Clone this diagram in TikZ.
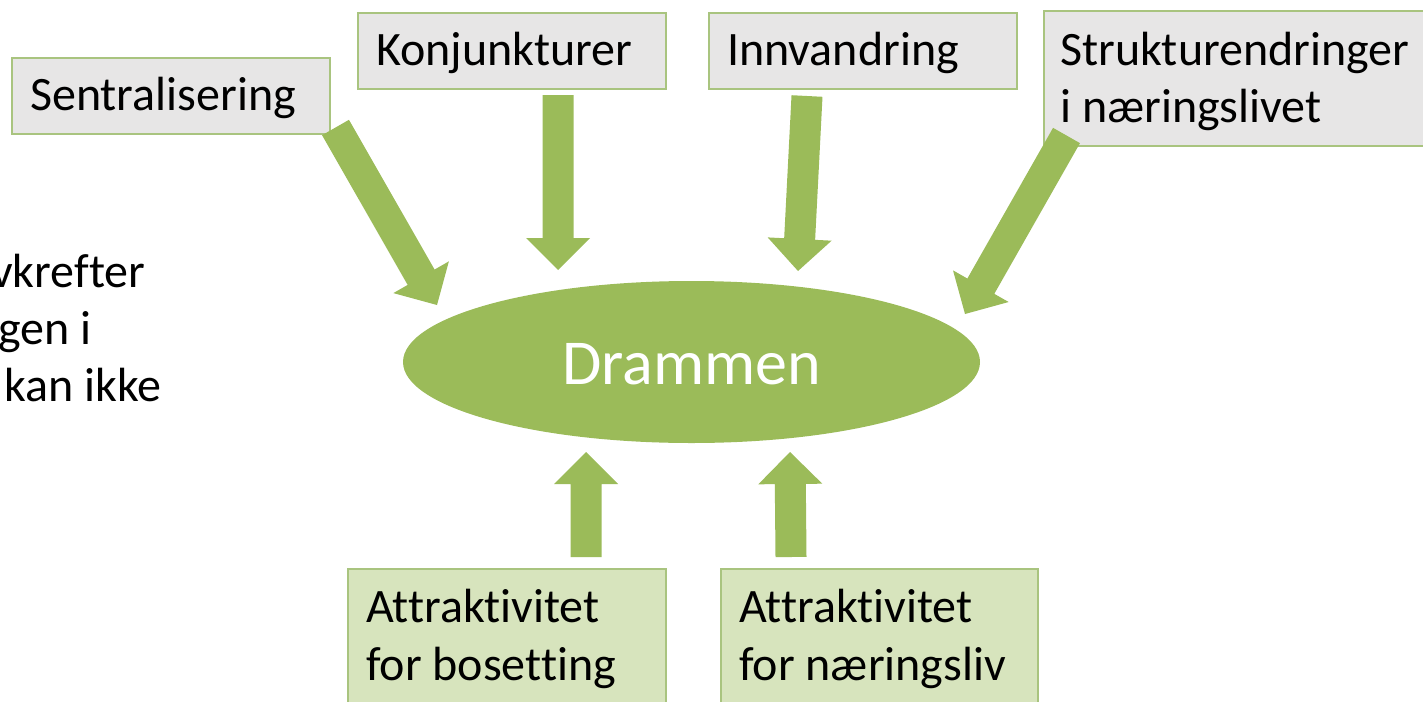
\documentclass[tikz,border=0pt]{standalone}
\usepackage{fontspec}
\setmainfont{Carlito}[Ligatures=NoCommon]
\usetikzlibrary{shapes.geometric,calc}
\definecolor{agreen}{HTML}{9BBB59}
\definecolor{bgreen}{HTML}{A9C47F}
\definecolor{gfill}{HTML}{E7E6E6}
\definecolor{lgfill}{HTML}{D7E4BD}
\newcommand\blockarr[2]{%
  \path ($(#2)!32pt!(#1)$) coordinate (hb);
  \fill[agreen] ($(#1)!15.5pt!90:(#2)$) -- ($(hb)!15.5pt!90:(#2)$) -- ($(hb)!32pt!90:(#2)$) -- (#2)
     -- ($(hb)!32pt!-90:(#2)$) -- ($(hb)!15.5pt!-90:(#2)$) -- ($(#1)!15.5pt!-90:(#2)$) -- cycle;
}
\tikzset{
  graybox/.style={draw=bgreen, line width=1.8pt, fill=gfill, rectangle, inner sep=0pt, anchor=north west},
  greenbox/.style={draw=bgreen, line width=1.8pt, fill=lgfill, rectangle, inner sep=0pt, anchor=north west},
  btxt/.style={inner sep=0pt, anchor=base west, font=\fontsize{48}{57}\selectfont, text=black},
}
\begin{document}
\begin{tikzpicture}[x=1pt,y=-1pt]
\useasboundingbox (0,0) rectangle (1423,701);
% boxes
\node[graybox, minimum width=318pt, minimum height=76pt] (sent) at (11,57) {};
\node[graybox, minimum width=308pt, minimum height=76pt] (konj) at (357,12) {};
\node[graybox, minimum width=308pt, minimum height=76pt] (innv) at (708,12) {};
\node[graybox, minimum width=400pt, minimum height=135pt] (strukt) at (1043,10) {};
\node[greenbox, minimum width=318pt, minimum height=150pt] (attb) at (347,568) {};
\node[greenbox, minimum width=317pt, minimum height=150pt] (attn) at (720,568) {};
% texts
\node[btxt] (sent-t) at (30,110) {Sentralisering};
\node[btxt] (konj-t) at (376,65) {Konjunkturer};
\node[btxt] (innv-t) at (727,65) {Innvandring};
\node[btxt] (strukt-t1) at (1060,65) {Strukturendringer};
\node[btxt] (strukt-t2) at (1060,122) {i næringslivet};
\node[btxt] (attb-t1) at (366,622) {Attraktivitet};
\node[btxt] (attb-t2) at (366,680) {for bosetting};
\node[btxt] (attn-t1) at (739,622) {Attraktivitet};
\node[btxt] (attn-t2) at (739,680) {for næringsliv};
% left text, cut off by the left edge as in the reference
\node[btxt] (left1) at (-9,287) {vkrefter};
\node[btxt] (left2) at (-2,344) {gen i};
\node[btxt] (left3) at (4,401) {kan ikke};
% ellipse
\node[ellipse, fill=agreen, minimum width=577pt, minimum height=162pt, inner sep=0pt] (dram) at (691.5,362) {};
\node[inner sep=0pt, anchor=base, font=\fontsize{64}{70}\selectfont, text=white] (dram-t) at (691.5,384) {Drammen};
% arrow end points
\coordinate (a1s) at (335.5,127.5); \coordinate (a1e) at (437,305);
\coordinate (a2s) at (558,95);      \coordinate (a2e) at (558,270);
\coordinate (a3s) at (807,96);      \coordinate (a3e) at (798,271);
\coordinate (a4s) at (1066.5,135.5);\coordinate (a4e) at (965,314);
\coordinate (a5s) at (586,557);     \coordinate (a5e) at (586,452);
\coordinate (a6s) at (791,557);     \coordinate (a6e) at (790,452);
\blockarr{a1s}{a1e}
\blockarr{a2s}{a2e}
\blockarr{a3s}{a3e}
\blockarr{a4s}{a4e}
\blockarr{a5s}{a5e}
\blockarr{a6s}{a6e}
\end{tikzpicture}
\end{document}
